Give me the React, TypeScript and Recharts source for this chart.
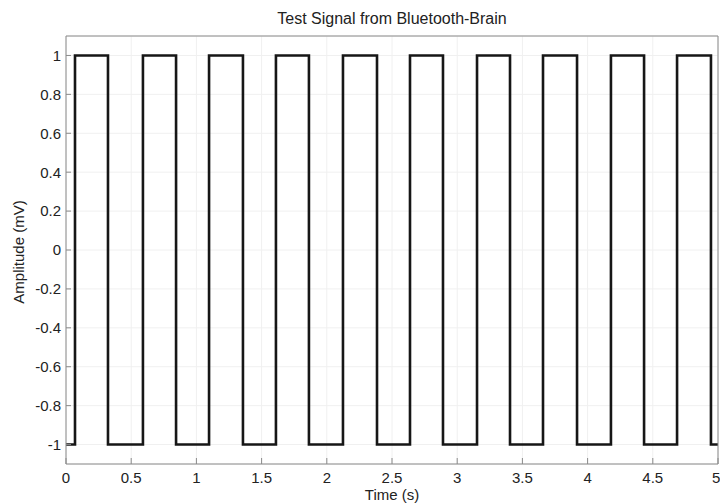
import React from "react";
import { LineChart, Line, XAxis, YAxis, CartesianGrid } from "recharts";

// switching instants of the square wave (s), signal starts at the low level
const edgeTimes = [
  0.069, 0.322, 0.59, 0.844, 1.097, 1.357, 1.61, 1.863, 2.124, 2.385,
  2.638, 2.891, 3.152, 3.405, 3.658, 3.919, 4.179, 4.433, 4.686, 4.946,
];
const lowLevel = -1;
const highLevel = 1;
const timeRange = [0, 5];

const xTicks = [0, 0.5, 1, 1.5, 2, 2.5, 3, 3.5, 4, 4.5, 5];
const yTicks = [-1, -0.8, -0.6, -0.4, -0.2, 0, 0.2, 0.4, 0.6, 0.8, 1];

const FONT = '"Liberation Sans", Arial, sans-serif';
const AXIS = "#8a8a8a";

// build the step points: two points per edge so the edge is vertical
const signal: { t: number; v: number }[] = [{ t: timeRange[0], v: lowLevel }];
let level = lowLevel;
edgeTimes.forEach((t) => {
  signal.push({ t, v: level });
  level = level === lowLevel ? highLevel : lowLevel;
  signal.push({ t, v: level });
});
signal.push({ t: timeRange[1], v: level });

const tickStyle = { fontSize: 15, fill: "#222", fontFamily: FONT };

export default function App() {
  return (
    <div style={{ position: "absolute", left: 0, top: 0, background: "#fff" }}>
      <LineChart
        width={720}
        height={504}
        data={signal}
        margin={{ top: 35, right: 1, left: 26, bottom: 0 }}
      >
        <CartesianGrid stroke="#f0f0f0" />
        <XAxis
          dataKey="t"
          type="number"
          domain={timeRange}
          ticks={xTicks}
          height={40}
          tickSize={-6}
          tickMargin={14}
          stroke={AXIS}
          tick={tickStyle}
          label={{
            content: () => (
              <text x={392} y={500} textAnchor="middle" fontSize={15} fontFamily={FONT} fill="#222">
                Time (s)
              </text>
            ),
          }}
        />
        <XAxis
          xAxisId="top"
          orientation="top"
          dataKey="t"
          type="number"
          domain={timeRange}
          ticks={xTicks}
          height={1}
          tickSize={-5}
          tick={false}
          stroke={AXIS}
          label={{
            content: () => (
              <text x={392} y={24} textAnchor="middle" fontSize={16} fontFamily={FONT} fill="#222">
                Test Signal from Bluetooth-Brain
              </text>
            ),
          }}
        />
        <YAxis
          type="number"
          domain={[-1.1, 1.1]}
          ticks={yTicks}
          width={40}
          tickSize={-5}
          tickMargin={10}
          stroke={AXIS}
          tick={tickStyle}
          label={{
            content: () => (
              <text
                x={24}
                y={252}
                transform="rotate(-90 24 252)"
                textAnchor="middle"
                fontSize={15}
                fontFamily={FONT}
                fill="#222"
              >
                Amplitude (mV)
              </text>
            ),
          }}
        />
        <YAxis
          yAxisId="right"
          orientation="right"
          type="number"
          domain={[-1.1, 1.1]}
          ticks={yTicks}
          width={1}
          tickSize={-5}
          tick={false}
          stroke={AXIS}
        />
        <Line
          type="linear"
          dataKey="v"
          stroke="#161616"
          strokeWidth={2.6}
          dot={false}
          isAnimationActive={false}
        />
      </LineChart>
    </div>
  );
}
